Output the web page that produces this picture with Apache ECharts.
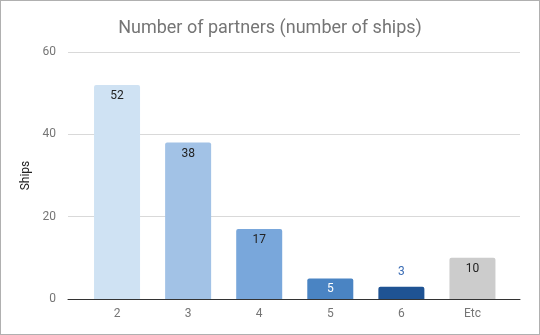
<!DOCTYPE html>
<html>
<head>
<meta charset="utf-8">
<script src="https://cdn.jsdelivr.net/npm/echarts@6/dist/echarts.min.js"></script>
<style>
html,body{margin:0;padding:0;background:#fff;}
#c{width:540px;height:335px;box-sizing:border-box;border:1px solid #b0b0b0;}
</style>
</head>
<body>
<div id="c"></div>
<script>
var categories = ['2', '3', '4', '5', '6', 'Etc'];
var ships = [52, 38, 17, 5, 3, 10];
var barColors = ['#cfe2f3', '#a2c2e6', '#79a7db', '#4a84c3', '#1f5393', '#cccccc'];
var labelColors = ['#222222', '#222222', '#222222', '#ffffff', '#3b6db5', '#222222'];
var yTicks = [0, 20, 40, 60];

var chart = echarts.init(document.getElementById('c'));
var font = 'Roboto, Arial, sans-serif';
chart.setOption({
  animation: false,
  title: {
    text: 'Number of partners (number of ships)',
    left: 'center', top: 13,
    textStyle: { fontFamily: font, fontSize: 18, fontWeight: 'normal', color: '#757575' }
  },
  grid: [
    { left: 67, right: 19, top: 51, bottom: 35 },
    { left: 80.5, right: 31, top: 51, bottom: 35 }
  ],
  xAxis: [
    { gridIndex: 0, type: 'category', data: categories, axisLabel: { show: false },
      axisTick: { show: false }, axisLine: { lineStyle: { color: '#333333', width: 1 } } },
    { gridIndex: 1, type: 'category', data: categories,
      axisTick: { show: false }, axisLine: { show: false },
      axisLabel: { color: '#757575', fontFamily: font, fontSize: 12, margin: 9 } }
  ],
  yAxis: [
    { gridIndex: 0, type: 'value', min: yTicks[0], max: yTicks[yTicks.length - 1], interval: 20,
      name: 'Ships', nameLocation: 'middle', nameGap: 36,
      nameTextStyle: { fontFamily: font, fontSize: 12, color: '#222222' },
      axisLabel: { color: '#757575', fontFamily: font, fontSize: 12, margin: 12 },
      axisTick: { show: false }, axisLine: { show: false },
      splitLine: { lineStyle: { color: '#d9d9d9', width: 1 } } },
    { gridIndex: 1, type: 'value', min: 0, max: 60, interval: 20, show: false,
      splitLine: { show: false } }
  ],
  series: [{
    type: 'bar', xAxisIndex: 1, yAxisIndex: 1,
    barWidth: 46,
    data: ships.map(function (v, i) {
      var small = v < 4;
      return {
        value: v,
        itemStyle: { color: barColors[i], borderRadius: [2, 2, 0, 0] },
        label: {
          show: true,
          position: small ? 'top' : 'insideTop',
          distance: small ? 9 : 5,
          color: labelColors[i],
          fontFamily: font, fontSize: 12
        }
      };
    })
  }]
});
</script>
</body>
</html>
